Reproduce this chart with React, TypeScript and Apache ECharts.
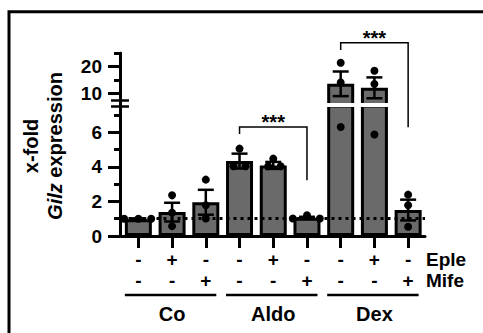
import React, { useEffect, useRef } from 'react';
import * as echarts from 'echarts';

// ---------- data ----------
const categories = ['Co', 'Co + Eple', 'Co + Mife', 'Aldo', 'Aldo + Eple', 'Aldo + Mife', 'Dex', 'Dex + Eple', 'Dex + Mife'];
const epleRow = ['-', '+', '-', '-', '+', '-', '-', '+', '-'];
const mifeRow = ['-', '-', '+', '-', '-', '+', '-', '-', '+'];
const groupNames = ['Co', 'Aldo', 'Dex'];
const groupStart = [0, 3, 6];
const groupEnd = [2, 5, 8];

const means = [0.97, 1.38, 1.95, 4.33, 4.08, 1.05, 13.6, 12.1, 1.5];
const sems = [0.05, 0.54, 0.72, 0.43, 0.2, 0.06, 4.6, 3.9, 0.6];
const replicates = [
  [1.0, 1.0, 1.0],
  [2.35, 1.34, 0.57],
  [3.26, 1.78, 1.01],
  [5.05, 4.03, 4.03],
  [4.47, 4.03, 4.03],
  [1.01, 1.2, 1.01],
  [21.5, 14.1, 6.3],
  [18.5, 13.5, 5.87],
  [2.39, 1.78, 0.53],
];
// horizontal spread of overlapping replicates (fraction of band)
const jitter = [
  [-0.42, 0, 0.38],
  [0, 0, 0],
  [0, 0, 0],
  [0, -0.18, 0.18],
  [0, -0.15, 0.22],
  [-0.42, 0, 0.38],
  [0, 0, 0],
  [0, 0, 0],
  [0, 0, 0],
];

const lowerRange = [0, 7.6];
const upperRange = [5.5, 25];
const lowerTicks = [0, 2, 4, 6];
const lowerMinorTicks = [1, 3, 5, 7];
const upperTicks = [10, 20];
const upperMinorTicks = [15, 25];
const baselineValue = 1;

// significance brackets
const sigFrom = [3, 6];
const sigTo = [5, 8];
const sigTopAxis = ['lower', 'upper'];
const sigTop = [6.3, 28.9];
const sigLeftAxis = ['lower', 'upper'];
const sigLeftEnd = [5.9, 26.2];
const sigRightAxis = ['lower', 'lower'];
const sigRightEnd = [3.22, 6.28];
const sigLabel = ['***', '***'];

const FONT = '"Liberation Sans", Arial, Helvetica, sans-serif';

export default function App() {
  const ref = useRef<HTMLDivElement>(null);

  useEffect(() => {
    const chart = echarts.init(ref.current!, null, { renderer: 'svg' });

    const LOWER = { top: 104.5, bottom: 236 };
    const UPPER = { top: 53.3, bottom: 105.5 };
    const LEFT = 121.5;
    const RIGHT = 425;
    const labelMargin = 12.5;
    const labelLineHeight = 21;

    const isUpper = (v: number) => v > lowerRange[1];
    const barLower = means.map((v) => Math.min(v, lowerRange[1]));
    const barUpper = means.map((v) => (isUpper(v) ? v : '-'));
    const errLower: number[][] = [];
    const errUpper: number[][] = [];
    means.forEach((m, i) => (isUpper(m) ? errUpper : errLower).push([i, m, sems[i]]));
    const ptsLower: number[][] = [];
    const ptsUpper: number[][] = [];
    replicates.forEach((arr, i) =>
      arr.forEach((v, j) => (isUpper(v) ? ptsUpper : ptsLower).push([i, v, jitter[i][j]]))
    );

    const errRender = (_p: any, api: any) => {
      const i = api.value(0);
      const m = api.value(1);
      const s = api.value(2);
      const hi = api.coord([i, m + s]);
      const lo = api.coord([i, m - s]);
      const cap = 8;
      const style = { stroke: '#000', lineWidth: 2.5 };
      return {
        type: 'group',
        children: [
          { type: 'line', shape: { x1: hi[0], y1: hi[1], x2: lo[0], y2: lo[1] }, style },
          { type: 'line', shape: { x1: hi[0] - cap, y1: hi[1], x2: hi[0] + cap, y2: hi[1] }, style },
          { type: 'line', shape: { x1: lo[0] - cap, y1: lo[1], x2: lo[0] + cap, y2: lo[1] }, style },
        ],
      };
    };
    const ptRender = (_p: any, api: any) => {
      const i = api.value(0);
      const v = api.value(1);
      const j = api.value(2);
      const c = api.coord([i, v]);
      const bw = api.size([1, 0])[0];
      return { type: 'circle', shape: { cx: c[0] + j * bw, cy: c[1], r: 4 }, style: { fill: '#000' } };
    };

    const black = { color: '#000', width: 3 };
    const tickFont = { color: '#000', fontFamily: FONT, fontWeight: 'bold' as const, fontSize: 19 };

    const yAxisPair = (grid: number, range: number[], major: number[], minor: number[]) => [
      {
        type: 'value', gridIndex: grid, min: range[0], max: range[1], position: 'left', offset: 1.5,
        axisLine: { show: true, lineStyle: black },
        axisTick: { show: true, customValues: major, length: 12, lineStyle: black },
        axisLabel: { show: true, customValues: major, margin: 18, ...tickFont },
        splitLine: { show: false },
      },
      {
        type: 'value', gridIndex: grid, min: range[0], max: range[1], position: 'left', offset: 1.5,
        axisLine: { show: true, lineStyle: black },
        axisTick: { show: true, customValues: minor, length: 6, lineStyle: black },
        axisLabel: { show: false },
        splitLine: { show: false },
      },
    ];

    const barStyle = { color: '#6a6a6a', borderColor: '#000', borderWidth: 3 };

    chart.setOption({
      animation: false,
      grid: [
        { left: LEFT, width: RIGHT - LEFT, top: LOWER.top, height: LOWER.bottom - LOWER.top },
        { left: LEFT, width: RIGHT - LEFT, top: UPPER.top, height: UPPER.bottom - UPPER.top },
      ],
      xAxis: [
        {
          type: 'category', gridIndex: 0, data: categories,
          axisLine: { show: true, lineStyle: black },
          axisTick: { show: true, alignWithLabel: true, length: 12, lineStyle: black },
          axisLabel: {
            interval: 0, margin: labelMargin, lineHeight: labelLineHeight, ...tickFont,
            formatter: (_v: string, i: number) => `${epleRow[i]}\n${mifeRow[i]}`,
          },
        },
        { type: 'category', gridIndex: 1, data: categories, show: false },
      ],
      yAxis: [
        ...yAxisPair(0, lowerRange, lowerTicks, lowerMinorTicks),
        ...yAxisPair(1, upperRange, upperTicks, upperMinorTicks),
      ],
      series: [
        { type: 'bar', xAxisIndex: 0, yAxisIndex: 0, data: barLower, barWidth: 27, itemStyle: barStyle, clip: true, z: 2 },
        { type: 'bar', xAxisIndex: 1, yAxisIndex: 2, data: barUpper, barWidth: 27, itemStyle: barStyle, clip: true, z: 2 },
        { type: 'custom', xAxisIndex: 0, yAxisIndex: 0, data: errLower, renderItem: errRender, encode: { x: 0, y: 1 }, z: 3 },
        { type: 'custom', xAxisIndex: 1, yAxisIndex: 2, data: errUpper, renderItem: errRender, encode: { x: 0, y: 1 }, z: 3 },
        {
          type: 'custom', xAxisIndex: 0, yAxisIndex: 0, data: ptsLower, renderItem: ptRender, encode: { x: 0, y: 1 }, z: 4,
          markLine: {
            silent: true, symbol: 'none', label: { show: false },
            lineStyle: { color: '#000', width: 3, type: [3, 4] },
            data: [{ yAxis: baselineValue }],
          },
        },
        { type: 'custom', xAxisIndex: 1, yAxisIndex: 2, data: ptsUpper, renderItem: ptRender, encode: { x: 0, y: 1 }, z: 4 },
      ],
    });

    const px = (axis: string, cat: number, v: number) =>
      chart.convertToPixel(
        axis === 'upper' ? { xAxisIndex: 1, yAxisIndex: 2 } : { xAxisIndex: 0, yAxisIndex: 0 },
        [cat, v]
      ) as number[];

    const graphics: any[] = [];
    // frame
    graphics.push({
      type: 'polyline', z: 10,
      shape: { points: [[9, 340], [9, 11.7], [490, 11.7]] },
      style: { stroke: '#000', lineWidth: 3, fill: null },
    });
    // white gap through broken bars
    const gx0 = px('lower', 6, 0)[0] - 20;
    const gx1 = px('lower', 7, 0)[0] + 20;
    graphics.push({
      type: 'rect', z: 100,
      shape: { x: gx0, y: LOWER.top - 1.5, width: gx1 - gx0, height: UPPER.bottom - LOWER.top + 3 },
      style: { fill: '#fff' },
    });
    // axis break marks
    [UPPER.bottom - 5, LOWER.top + 2].forEach((y) =>
      graphics.push({
        type: 'line', z: 100,
        shape: { x1: 111, y1: y, x2: 129, y2: y },
        style: { stroke: '#000', lineWidth: 2.5 },
      })
    );
    // significance brackets
    sigFrom.forEach((f, k) => {
      const t = sigTo[k];
      const xL = px('lower', f, 0)[0];
      const xR = px('lower', t, 0)[0];
      const yTop = px(sigTopAxis[k], f, sigTop[k])[1];
      const yL = px(sigLeftAxis[k], f, sigLeftEnd[k])[1];
      const yR = px(sigRightAxis[k], t, sigRightEnd[k])[1];
      graphics.push({
        type: 'polyline', z: 10,
        shape: { points: [[xL, yL], [xL, yTop], [xR, yTop], [xR, yR]] },
        style: { stroke: '#000', lineWidth: 1.5, fill: null },
      });
      graphics.push({
        type: 'text', z: 10, x: (xL + xR) / 2, y: yTop - 5,
        style: { text: sigLabel[k], fontFamily: FONT, fontWeight: 'bold', fontSize: 20, fill: '#000', align: 'center', verticalAlign: 'middle' },
      });
    });
    // row labels
    const row1 = LOWER.bottom + labelMargin + labelLineHeight / 2;
    ['Eple', 'Mife'].forEach((s, k) =>
      graphics.push({
        type: 'text', z: 10, x: RIGHT + 1, y: row1 + k * labelLineHeight,
        style: { text: s, fontFamily: FONT, fontWeight: 'bold', fontSize: 19, fill: '#000', align: 'left', verticalAlign: 'middle' },
      })
    );
    // group lines and labels
    groupNames.forEach((g, k) => {
      const x0 = px('lower', groupStart[k], 0)[0] - 13.5;
      const x1 = px('lower', groupEnd[k], 0)[0] + 10.5;
      const xm = px('lower', (groupStart[k] + groupEnd[k]) / 2, 0)[0];
      graphics.push({
        type: 'line', z: 10,
        shape: { x1: x0, y1: 295, x2: x1, y2: 295 },
        style: { stroke: '#000', lineWidth: 2.7 },
      });
      graphics.push({
        type: 'text', z: 10, x: xm, y: 313.5,
        style: { text: g, fontFamily: FONT, fontWeight: 'bold', fontSize: 20, fill: '#000', align: 'center', verticalAlign: 'middle' },
      });
    });
    // y axis title
    graphics.push({
      type: 'text', z: 10, x: 43, y: 146, rotation: Math.PI / 2,
      style: {
        text: 'x-fold\n{i|Gilz} expression',
        fontFamily: FONT, fontWeight: 'bold', fontSize: 20, fill: '#000',
        align: 'center', verticalAlign: 'middle', lineHeight: 24,
        rich: { i: { fontFamily: FONT, fontWeight: 'bold', fontStyle: 'italic', fontSize: 20, lineHeight: 24, fill: '#000' } },
      },
    });

    chart.setOption({ graphic: graphics });

    return () => chart.dispose();
  }, []);

  return <div ref={ref} style={{ position: 'absolute', left: 0, top: 0, width: 483, height: 333 }} />;
}
